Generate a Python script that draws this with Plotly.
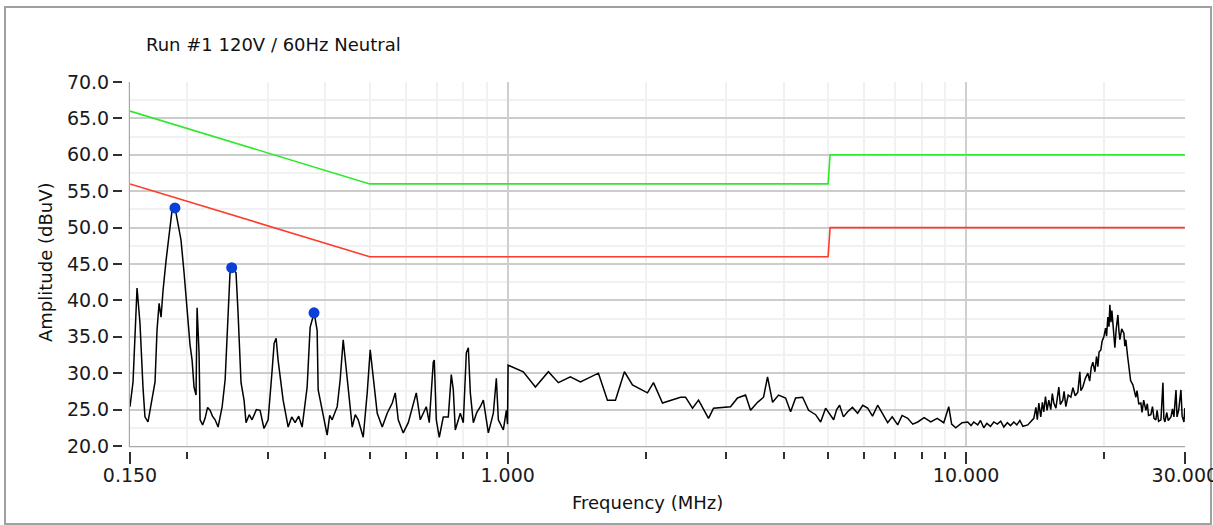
import plotly.graph_objects as go
import math

# ---------------- data ----------------
TITLE = "Run #1 120V / 60Hz Neutral"
X_TITLE = "Frequency (MHz)"
Y_TITLE = "Amplitude (dBuV)"

FREQ_MHZ = [
    0.150, 0.1523, 0.1554, 0.1577, 0.1601, 0.1617, 0.1642, 0.1675, 0.1701, 0.1718,
    0.1736, 0.1753, 0.1771, 0.1798, 0.1825, 0.1853, 0.1881, 0.1909, 0.1938, 0.1968,
    0.1998, 0.2028, 0.2049, 0.2069, 0.2090, 0.2101, 0.2122, 0.2133, 0.2160, 0.2187,
    0.2215, 0.2243, 0.2270, 0.2300, 0.2335, 0.2383, 0.2419, 0.2456, 0.2479, 0.2504,
    0.2555, 0.2581, 0.2620, 0.2660, 0.2687, 0.2730, 0.2769, 0.2830, 0.2883, 0.2940,
    0.3002, 0.3063, 0.3094, 0.3125, 0.3156, 0.3237, 0.3320, 0.3380, 0.3438, 0.3500,
    0.3561, 0.3652, 0.3707, 0.3783, 0.3840, 0.3860, 0.3958, 0.4038, 0.4090, 0.4141,
    0.4247, 0.4311, 0.4377, 0.4466, 0.4580, 0.4650, 0.4720, 0.4840, 0.4938, 0.5013,
    0.5090, 0.5193, 0.5325, 0.5460, 0.5600, 0.5685, 0.5771, 0.5918, 0.6069, 0.6223,
    0.6318, 0.6446, 0.6644, 0.6744, 0.6881, 0.6916, 0.6986, 0.7092, 0.7236, 0.7421,
    0.7533, 0.7610, 0.7686, 0.7882, 0.8002, 0.8124, 0.8206, 0.8289, 0.8415, 0.8560,
    0.8716, 0.8849, 0.9074, 0.9305, 0.9446, 0.9542, 0.9784, 0.9933, 0.9990, 1.0020,
    1.0817, 1.1494, 1.2268, 1.2900, 1.3701, 1.4409, 1.5774, 1.6505, 1.7181, 1.7976,
    1.8714, 2.0181, 2.0799, 2.1762, 2.3826, 2.4432, 2.5305, 2.6082, 2.7422, 2.8121,
    3.0627, 3.1722, 3.3026, 3.3866, 3.5079, 3.6153, 3.6888, 3.7829, 3.8987, 4.0385,
    4.1415, 4.2468, 4.3990, 4.5338, 4.6961, 4.8155, 4.9380, 5.1408, 5.2200, 5.2980,
    5.4000, 5.5155, 5.6500, 5.8000, 5.9500, 6.0992, 6.2500, 6.4134, 6.5500, 6.7441,
    6.9000, 7.0920, 7.2500, 7.4574, 7.6500, 7.8422, 8.1000, 8.3735, 8.6500, 8.9382,
    9.1656, 9.3000, 9.4937, 9.8000, 10.083, 10.250, 10.391, 10.600, 10.750, 10.928,
    11.100, 11.300, 11.493, 11.700, 11.900, 12.086, 12.300, 12.500, 12.709, 12.900,
    13.100, 13.300, 13.632, 13.850, 14.050, 14.200, 14.300, 14.410, 14.550, 14.670,
    14.775, 14.900, 15.020, 15.151, 15.300, 15.420, 15.537, 15.700, 15.800, 15.932,
    16.050, 16.255, 16.360, 16.504, 16.700, 16.924, 17.100, 17.300, 17.529, 17.706,
    17.800, 17.976, 18.200, 18.433, 18.600, 18.750, 18.902, 19.100, 19.250, 19.382,
    19.500, 19.677, 19.800, 19.976, 20.150, 20.250, 20.382, 20.500, 20.588, 20.700,
    20.800, 20.901, 21.000, 21.112, 21.250, 21.434, 21.550, 21.650, 21.850, 22.089,
    22.200, 22.312, 22.500, 22.652, 22.850, 23.112, 23.300, 23.463, 23.600, 23.800,
    24.060, 24.200, 24.400, 24.670, 24.850, 25.000, 25.300, 25.500, 25.700, 25.940,
    26.100, 26.300, 26.610, 26.880, 27.000, 27.150, 27.400, 27.600, 27.980, 28.200,
    28.400, 28.700, 28.850, 29.100, 29.420, 29.600, 29.870, 30.000,
]

AMP_DBUV = [
    25.4, 28.8, 41.7, 36.9, 28.1, 24.0, 23.3, 26.7, 28.8, 35.9,
    39.6, 37.7, 41.4, 45.5, 49.3, 52.4, 52.7, 50.6, 48.3, 43.8,
    38.3, 33.9, 31.8, 28.1, 27.0, 39.0, 32.8, 23.6, 22.9, 23.8,
    25.3, 24.9, 24.1, 23.6, 22.6, 25.4, 29.1, 37.7, 43.8, 44.5,
    43.8, 38.3, 28.7, 26.3, 23.2, 24.3, 23.6, 25.0, 24.9, 22.4,
    23.6, 30.4, 34.1, 34.8, 31.8, 26.3, 22.6, 24.0, 23.2, 24.1,
    22.6, 28.1, 36.3, 38.3, 35.9, 27.7, 24.5, 21.5, 24.2, 23.6,
    25.4, 29.1, 34.6, 29.1, 22.6, 24.3, 23.6, 21.2, 27.3, 33.2,
    29.1, 24.5, 22.6, 24.5, 25.9, 27.3, 23.6, 21.8, 23.2, 25.9,
    27.3, 23.6, 25.4, 23.2, 31.5, 31.8, 23.6, 21.2, 24.0, 24.0,
    29.8, 27.7, 22.2, 24.5, 23.2, 32.8, 33.5, 27.3, 23.2, 24.6,
    25.4, 26.3, 21.8, 24.5, 29.3, 23.6, 22.2, 24.9, 23.0, 31.1,
    30.2, 28.1, 30.2, 28.7, 29.5, 28.8, 30.0, 26.3, 26.3, 30.2,
    28.4, 27.3, 28.7, 25.9, 26.7, 26.7, 25.2, 26.3, 23.8, 25.2,
    25.4, 26.6, 27.0, 24.9, 26.0, 26.7, 29.5, 26.0, 27.0, 26.6,
    24.7, 26.6, 26.7, 24.9, 24.3, 23.3, 25.2, 23.6, 25.0, 25.6,
    24.0, 24.7, 25.3, 24.5, 25.6, 25.2, 24.1, 25.6, 24.6, 23.2,
    24.0, 22.9, 24.2, 23.8, 23.0, 23.3, 23.9, 23.3, 23.8, 23.2,
    25.4, 23.0, 22.5, 23.2, 23.3, 22.8, 23.3, 22.9, 23.5, 22.5,
    23.1, 22.7, 23.3, 23.0, 23.4, 22.6, 23.2, 22.8, 23.3, 22.9,
    23.5, 22.7, 22.9, 23.4, 23.8, 25.3, 23.6, 25.9, 24.0, 26.0,
    24.7, 26.8, 24.9, 26.3, 25.0, 27.2, 25.9, 25.2, 26.5, 28.1,
    25.7, 26.3, 27.5, 25.4, 27.0, 26.7, 28.0, 26.9, 27.4, 30.2,
    27.6, 28.1, 29.3, 30.0, 28.9, 30.8, 31.5, 30.2, 32.3, 30.9,
    32.9, 33.2, 34.4, 35.0, 36.2, 35.1, 37.7, 36.4, 39.4, 37.0,
    38.6, 36.9, 35.2, 33.5, 36.0, 38.0, 35.8, 34.6, 36.1, 35.5,
    33.7, 34.6, 32.4, 30.9, 29.0, 28.4, 27.2, 26.7, 27.6, 25.8,
    25.9, 24.6, 26.3, 24.9, 25.8, 24.2, 24.3, 25.4, 23.8, 23.6,
    24.9, 23.4, 23.6, 28.7, 23.8, 23.3, 24.6, 23.5, 24.0, 25.1,
    24.0, 27.7, 24.0, 25.0, 27.7, 24.1, 23.3, 25.2,
]

LIMIT_FREQ = [0.15, 0.5, 5.0, 5.05, 30.0]
LIMIT_QP = [66.0, 56.0, 56.0, 60.0, 60.0]
LIMIT_AVG = [56.0, 46.0, 46.0, 50.0, 50.0]

PEAK_FREQ = [0.188, 0.250, 0.378]
PEAK_AMP = [52.7, 44.5, 38.3]

X_TICK_VALS = [0.15, 1.0, 10.0, 30.0]
X_TICK_TEXT = ["0.150", "1.000", "10.000", "30.000"]
X_MINOR_VALS = [0.2, 0.3, 0.4, 0.5, 0.6, 0.7, 0.8, 0.9,
                2, 3, 4, 5, 6, 7, 8, 9, 20]
X_GRID_MAJOR = [1.0, 10.0]
Y_TICK_VALS = [20, 25, 30, 35, 40, 45, 50, 55, 60, 65, 70]

# ---------------- figure ----------------
W, H = 1213, 525
L, R, T, B = 130, 28, 82, 79
PW, PH = W - L - R, H - T - B

FONT = "DejaVu Sans"

def px_x(p):
    return (p - L) / PW

def px_y(p):
    return (H - B - p) / PH

fig = go.Figure()

fig.add_trace(go.Scatter(x=LIMIT_FREQ, y=LIMIT_QP, mode="lines",
                         line=dict(color="#2ee82e", width=1.6), xaxis="x2",
                         hoverinfo="skip", showlegend=False))
fig.add_trace(go.Scatter(x=LIMIT_FREQ, y=LIMIT_AVG, mode="lines",
                         line=dict(color="#ff3b2b", width=1.6),
                         hoverinfo="skip", showlegend=False))
fig.add_trace(go.Scatter(x=FREQ_MHZ, y=AMP_DBUV, mode="lines",
                         line=dict(color="#000000", width=1.5),
                         showlegend=False))
fig.add_trace(go.Scatter(x=PEAK_FREQ, y=PEAK_AMP, mode="markers",
                         marker=dict(color="#0a3fd8", size=11),
                         showlegend=False))

xr = [math.log10(0.15), math.log10(30.0) + 0.0004]

fig.update_layout(
    width=W, height=H,
    margin=dict(l=L, r=R, t=T, b=B, pad=0, autoexpand=False),
    paper_bgcolor="white", plot_bgcolor="white",
    font=dict(family=FONT, size=19, color="#1a1a1a"),
    xaxis=dict(
        type="log", range=xr, tickmode="array",
        tickvals=X_TICK_VALS, ticktext=X_TICK_TEXT,
        ticklabeloverflow="allow", automargin=False,
        ticklabelstandoff=-5,
        showgrid=False, zeroline=False,
        ticks="outside", ticklen=16, tickwidth=2, tickcolor="#303030",
        showline=True, linecolor="#a8a8a8", linewidth=2,
        tickfont=dict(family=FONT, size=19, color="#1a1a1a"),
        minor=dict(tickmode="array", tickvals=X_MINOR_VALS,
                   ticks="outside", ticklen=11, tickwidth=2,
                   tickcolor="#303030",
                   showgrid=True, gridcolor="#f1f1f1", gridwidth=1.5),
    ),
    xaxis2=dict(
        type="log", range=xr, overlaying="x", anchor="y",
        tickmode="array", tickvals=X_GRID_MAJOR,
        showticklabels=False, ticks="", automargin=False,
        showgrid=True, gridcolor="#cfcfcf", gridwidth=2,
        zeroline=False, showline=False,
    ),
    yaxis=dict(
        range=[20, 70], tickmode="array", tickvals=Y_TICK_VALS,
        tickformat=".1f", automargin=False,
        showgrid=True, gridcolor="#cccccc", gridwidth=2,
        zeroline=False,
        ticks="outside", ticklen=15, tickwidth=2, tickcolor="#303030",
        showline=True, linecolor="#a8a8a8", linewidth=2,
        tickfont=dict(family=FONT, size=19, color="#1a1a1a"),
        minor=dict(dtick=2.5, showgrid=True, gridcolor="#f1f1f1",
                   gridwidth=1.5, ticks=""),
    ),
    shapes=[
        # outer frame
        dict(type="rect", xref="paper", yref="paper",
             x0=px_x(5), x1=px_x(1211), y0=px_y(524), y1=px_y(7),
             line=dict(color="#a0a0a0", width=2), fillcolor="rgba(0,0,0,0)",
             layer="below"),
        # gaps between axis lines and tick marks
        dict(type="rect", xref="paper", yref="paper",
             x0=px_x(118), x1=px_x(1200), y0=px_y(447.2), y1=px_y(452),
             line=dict(width=0), fillcolor="white", layer="above"),
        dict(type="rect", xref="paper", yref="paper",
             x0=px_x(122), x1=px_x(128.8), y0=px_y(452), y1=px_y(70),
             line=dict(width=0), fillcolor="white", layer="above"),
    ],
    annotations=[
        dict(text=TITLE, xref="paper", yref="paper", x=px_x(144), y=px_y(45),
             xanchor="left", yanchor="middle", showarrow=False,
             font=dict(family=FONT, size=18, color="#111111")),
        dict(text=X_TITLE, xref="paper", yref="paper", x=px_x(647), y=px_y(503),
             xanchor="center", yanchor="middle", showarrow=False,
             font=dict(family=FONT, size=18, color="#111111")),
        dict(text=Y_TITLE, xref="paper", yref="paper", x=px_x(45), y=px_y(262),
             xanchor="center", yanchor="middle", showarrow=False, textangle=-90,
             font=dict(family=FONT, size=18, color="#111111")),
    ],
)

fig.write_html("out.html")
